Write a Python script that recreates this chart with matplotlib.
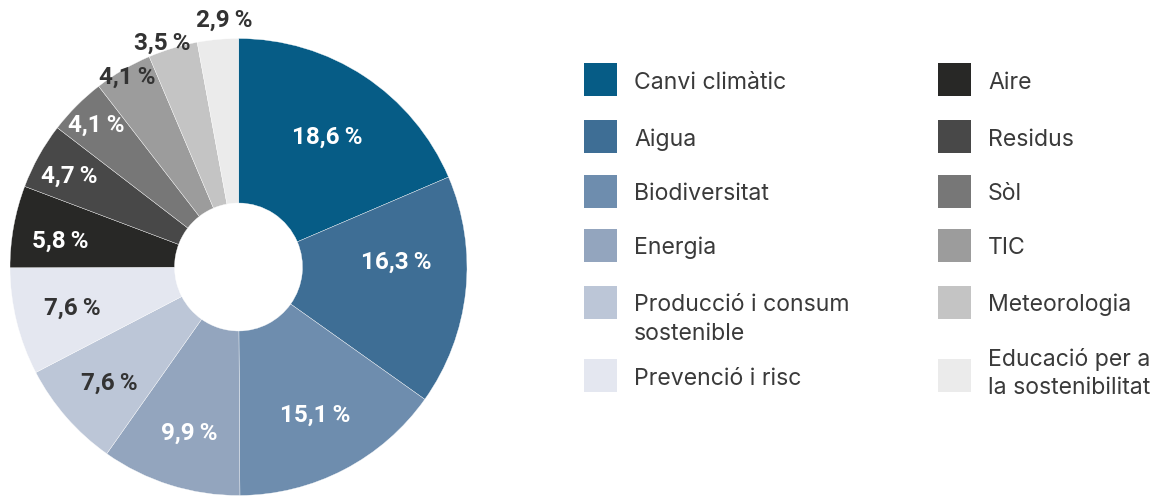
import matplotlib
matplotlib.use("Agg")
import matplotlib.pyplot as plt
from matplotlib.patches import Rectangle
import numpy as np

# ---- data ----
categories = ["Canvi climàtic", "Aigua", "Biodiversitat", "Energia",
              "Producció i consum\nsostenible", "Prevenció i risc",
              "Aire", "Residus", "Sòl", "TIC", "Meteorologia",
              "Educació per a\nla sostenibilitat"]
values = [18.6, 16.3, 15.1, 9.9, 7.6, 7.6, 5.8, 4.7, 4.1, 4.1, 3.5, 2.9]

# ---- style ----
colors = ["#065C86", "#3E6E95", "#6E8DAE", "#93A5BE", "#BCC6D7", "#E4E7F0",
          "#282826", "#484848", "#777777", "#9C9C9C", "#C4C4C4", "#EBEBEB"]
label_colors = ["white", "white", "white", "white", "#333333", "#333333",
                "white", "white", "white", "#333333", "#333333", "#333333"]
label_radius = [0.69, 0.69, 0.73, 0.76, 0.76, 0.75, 0.79, 0.84, 0.88, 0.96, 1.035, 1.083]
label_angle_nudge = [1, -8, 0, -1, -1, 0, -2, -1, 0, 0, -2, 2]

W, H = 1169, 496
plt.rcParams['font.family'] = ['Roboto', 'DejaVu Sans']
fig = plt.figure(figsize=(W / 100, H / 100), dpi=100)

cx, cy, R = 238.5, 267.0, 228.5  # pixels, image coords (y down)
ax = fig.add_axes([0, 0, 2 * cx / W, 1])
wedges, _ = ax.pie(values, colors=colors, startangle=90, counterclock=False,
                   radius=1.0,
                   wedgeprops=dict(width=0.72, edgecolor="white", linewidth=0.25))
ax.set_xlim(-cx / R, cx / R)
ax.set_ylim(-(H - cy) / R, cy / R)
ax.set_aspect('auto')
ax.axis('off')

for w, v, lc, lr, nd in zip(wedges, values, label_colors, label_radius, label_angle_nudge):
    ang = np.deg2rad((w.theta1 + w.theta2) / 2 - nd)
    txt = f"{v:.1f}".replace('.', ',') + "\u2009%"
    ax.text(lr * np.cos(ang), lr * np.sin(ang), txt, ha='center', va='center',
            fontsize=17.5, fontweight='bold', color=lc)

# ---- legend (drawn manually) ----
def px(x, y):
    return x / W, 1 - y / H

col_x = [584, 938]
text_dx = 50
row_baselines = [89, 146, 200, 254, 311, 385]
row_baselines2 = [89, 146, 200, 254, 311, 366]
square_tops = [[63, 120, 175, 229, 286, 359], [63, 120, 175, 229, 286, 359]]
sq = 33
line_h = 28.5
text_color = "#3A3A3A"

for i, (cat, col) in enumerate(zip(categories, colors)):
    c = 0 if i < 6 else 1
    r = i % 6
    x0 = col_x[c]
    top = square_tops[c][r]
    fx, fy = px(x0, top + sq)
    fig.add_artist(Rectangle((fx, fy), sq / W, sq / H, transform=fig.transFigure,
                             facecolor=col, edgecolor='none'))
    base = (row_baselines if c == 0 else row_baselines2)[r]
    for k, line in enumerate(cat.split("\n")):
        tx, ty = px(x0 + text_dx, base + k * line_h)
        fig.text(tx, ty, line, ha='left', va='baseline', fontsize=16.6,
                 color=text_color, family=['Inter', 'DejaVu Sans'])

fig.savefig("out.png", dpi=100)
